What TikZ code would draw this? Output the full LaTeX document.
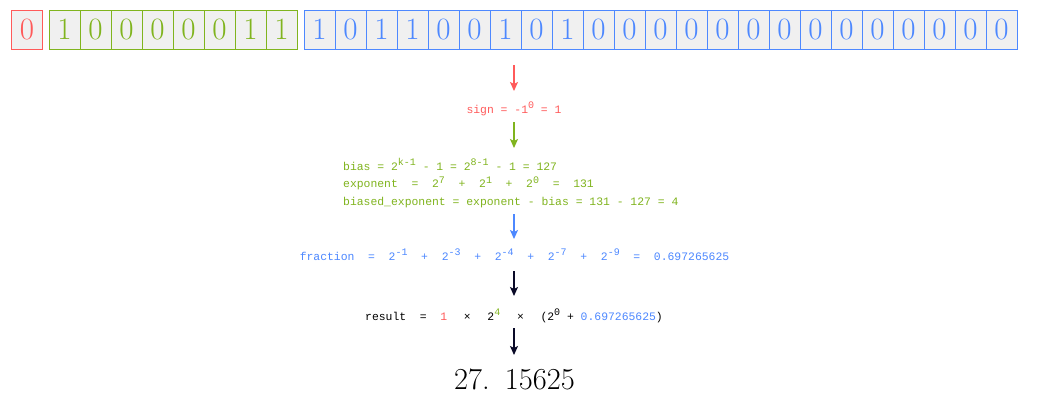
\documentclass[tikz,border=0pt]{standalone}
\usepackage{fontspec}
\usetikzlibrary{arrows.meta}
\newfontfamily\monof{Liberation Mono}
\definecolor{sred}{RGB}{255,90,90}
\definecolor{egreen}{RGB}{128,180,30}
\definecolor{mblue}{RGB}{77,136,255}
\definecolor{cellfill}{RGB}{240,240,240}
\definecolor{darkarrow}{RGB}{10,10,40}
\newcommand\supx[1]{\raisebox{0.42em}{\fontsize{10}{10}\selectfont #1}}
\newcommand\tms{\hspace{3pt}\texttimes\hspace{3pt}}
\begin{document}
\begin{tikzpicture}[x=1pt,y=-1pt,
  cell/.style={minimum width=31pt,minimum height=39pt,inner sep=0pt,fill=cellfill,line width=1pt,
    font=\fontsize{31}{31}\selectfont},
  mono/.style={inner sep=0pt,font=\monof\fontsize{11.4}{17.3}\selectfont},
  arr/.style={line width=1.4pt,-{Stealth[length=9pt,width=8pt,inset=2pt]}}]
\useasboundingbox (0,0) rectangle (1037,415);
\fill[white] (0,0) rectangle (1037,415);
% sign bit
\node[cell,draw=sred,text=sred] (s0) at (27,29.5) {0};
% exponent bits
\foreach \b [count=\i from 0] in {1,0,0,0,0,0,1,1}
  \node[cell,draw=egreen,text=egreen] (e\i) at ({64.5+31*\i},29.5) {\b};
% mantissa bits
\foreach \b [count=\i from 0] in {1,0,1,1,0,0,1,0,1,0,0,0,0,0,0,0,0,0,0,0,0,0,0}
  \node[cell,draw=mblue,text=mblue] (m\i) at ({319.5+31*\i},29.5) {\b};
% texts
\node[mono,text=sred] (sign) at (514,109) {sign = -1\supx{0} = 1};
\node[mono,text=egreen,anchor=west,align=left] (bias) at (343,183)
  {bias = 2\supx{k-1} - 1 = 2\supx{8-1} - 1 = 127\\
   exponent~~=~~2\supx{7}~~+~~2\supx{1}~~+~~2\supx{0}~~=~~131\\
   biased\_exponent = exponent - bias = 131 - 127 = 4};
\node[mono,text=mblue] (frac) at (514.5,255)
  {fraction~~=~~2\supx{-1}~~+~~2\supx{-3}~~+~~2\supx{-4}~~+~~2\supx{-7}~~+~~2\supx{-9}~~=~~0.697265625};
\node[mono,text=black] (result) at (514,316)
  {result~~=~~\textcolor{sred}{1}~~\tms~~2\supx{\textcolor{egreen}{4}}~~\tms~~(2\supx{0} + \textcolor{mblue}{0.697265625})};
\node[inner sep=0pt,font=\fontsize{30.5}{30.5}\selectfont] (value) at (514.5,379.5) {27.\hspace{15pt}15625};
% arrow end points
\coordinate (a1s) at (514,65);  \coordinate (a1e) at (514,91);
\coordinate (a2s) at (514,122); \coordinate (a2e) at (514,148);
\coordinate (a3s) at (514,214); \coordinate (a3e) at (514,239);
\coordinate (a4s) at (514,271); \coordinate (a4e) at (514,296);
\coordinate (a5s) at (514,328); \coordinate (a5e) at (514,355);
\draw[arr,sred] (a1s) -- (a1e);
\draw[arr,egreen] (a2s) -- (a2e);
\draw[arr,mblue] (a3s) -- (a3e);
\draw[arr,darkarrow] (a4s) -- (a4e);
\draw[arr,darkarrow] (a5s) -- (a5e);
\end{tikzpicture}
\end{document}
